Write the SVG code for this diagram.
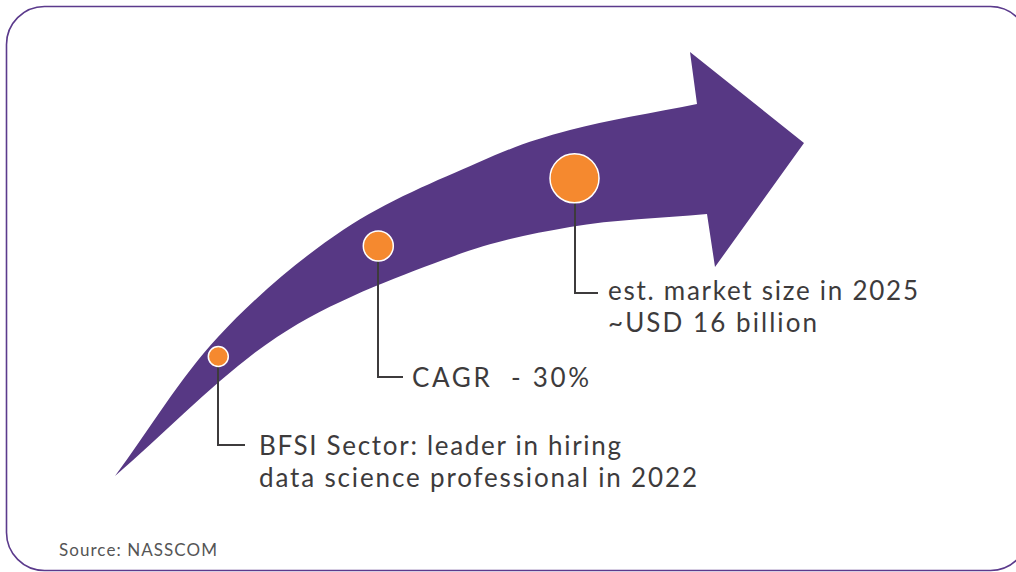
<svg xmlns="http://www.w3.org/2000/svg" width="1016" height="572" viewBox="0 0 1016 572">
<style>
.lbl{font-family:Lato,"Liberation Sans",sans-serif;font-size:26px;fill:#3d3b3c}
.src{font-family:Lato,"Liberation Sans",sans-serif;font-size:17px;fill:#555}
.dot{fill:#f5892f;stroke:#fff;stroke-width:1.5}
.conn{fill:none;stroke:#3d3b3c;stroke-width:2}
</style>
<rect x="6.5" y="6.5" width="1022" height="564" rx="38" fill="#fff" stroke="#5b3a8c" stroke-width="1.6"/>
<g id="arrow">
<path fill="#573884" d="M115,476 C149.3,429.7 180,378 218,337 C256,296 299.8,259 343,230 C386.2,201 439.2,179.7 477,163 C514.8,146.3 533.3,139.8 570,130 C606.7,120.2 654.7,112.7 697,104 L690,52 L804,143 L715,267 L707,214 C661.3,218.3 614,219.3 570,227 C526,234.7 491.8,241.7 443,260 C394.2,278.3 331.7,301 277,337 C222.3,373 169,429.7 115,476 Z"/>
</g>
<g id="connectors">
<polyline class="conn" points="218,366 218,445 245,445"/>
<polyline class="conn" points="378,261 378,377 403,377"/>
<polyline class="conn" points="575,202 575,293 598,293"/>
</g>
<g id="node-bfsi">
<circle class="dot" cx="218.3" cy="356.5" r="10"/>
<text class="lbl" x="259" y="455" textLength="362" lengthAdjust="spacing">BFSI Sector: leader in hiring</text>
<text class="lbl" x="259" y="487" textLength="438" lengthAdjust="spacing">data science professional in 2022</text>
</g>
<g id="node-cagr">
<circle class="dot" cx="378.3" cy="246" r="15"/>
<text class="lbl" x="412" y="387" textLength="177" lengthAdjust="spacing" xml:space="preserve">CAGR  - 30%</text>
</g>
<g id="node-market">
<circle class="dot" cx="574.5" cy="178.3" r="24.5"/>
<text class="lbl" x="608" y="300" textLength="310" lengthAdjust="spacing">est. market size in 2025</text>
<text class="lbl" x="608" y="332" textLength="209" lengthAdjust="spacing">~USD 16 billion</text>
</g>
<text class="src" x="59" y="556" textLength="158" lengthAdjust="spacing">Source: NASSCOM</text>
</svg>
